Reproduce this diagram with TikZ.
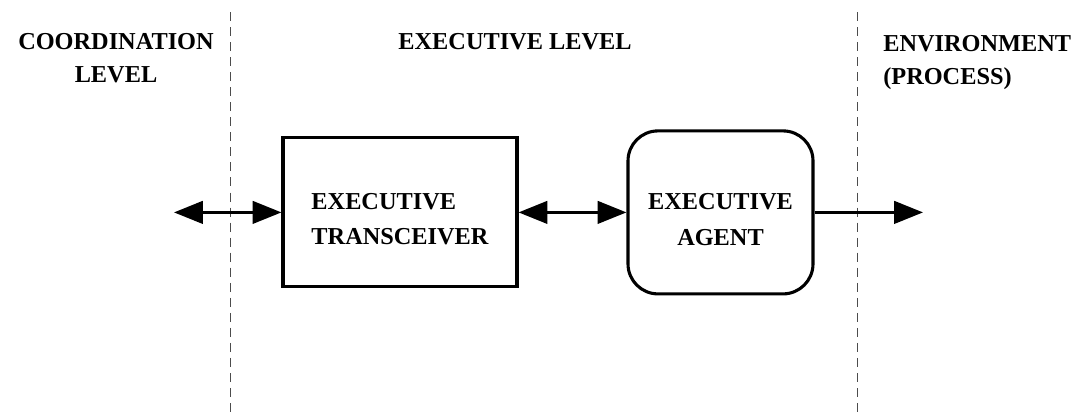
\documentclass[tikz,border=0pt]{standalone}
\usepackage{fontspec}
\setmainfont{Liberation Serif}
\usetikzlibrary{arrows.meta}

\begin{document}
\begin{tikzpicture}[
    >={Triangle[length=0.72cm,width=0.56cm]},
    levelline/.style={gray!60!black,line width=0.7pt,dash pattern=on 6.4pt off 4.3pt},
    lbl/.style={font=\fontsize{17.3}{23.5}\selectfont\bfseries,inner sep=0pt},
    inlbl/.style={font=\fontsize{17.3}{25.5}\selectfont\bfseries,inner sep=0pt,yshift=-0.17cm},
    block/.style={draw,line width=2.2pt,inner sep=0pt},
    link/.style={line width=2.1pt}
  ]
        \useasboundingbox (0,0) rectangle (26.85,10.35) ;
        % level boundaries
        \draw[levelline] (5.75,10.05) -- (5.75,0) ;
        \draw[levelline] (21.425,10.05) -- (21.425,0) ;
        % level titles
        \node[lbl,align=center,anchor=base] (coordlvl) at (2.9,8.29) {COORDINATION\\LEVEL} ;
        \node[lbl,anchor=base] (execlvl) at (12.875,9.1125) {EXECUTIVE LEVEL} ;
        \node[lbl,align=left,anchor=base west] (envlvl) at (22.075,8.23) {ENVIRONMENT\\(PROCESS)} ;
        % blocks
        \node[block,minimum width=5.85cm,minimum height=3.725cm,
        label={[inlbl,align=left]center:EXECUTIVE\\TRANSCEIVER}] (xcvr) at (10,5.04) {} ;
        \node[block,rounded corners=0.75cm,minimum width=4.625cm,minimum height=4.075cm,
        label={[inlbl,align=center]center:EXECUTIVE\\AGENT}] (agent) at (18.0125,5.04) {} ;
        \coordinate (coordside) at (4.35,5.04) ;
        \coordinate (process) at (23.075,5.04) ;
        % links
        \draw[link,<->] (coordside) -- (xcvr) ;
        \draw[link,<->] (xcvr) -- (agent) ;
        \draw[link,->] (agent) -- (process) ;
      \end{tikzpicture}
\end{document}
